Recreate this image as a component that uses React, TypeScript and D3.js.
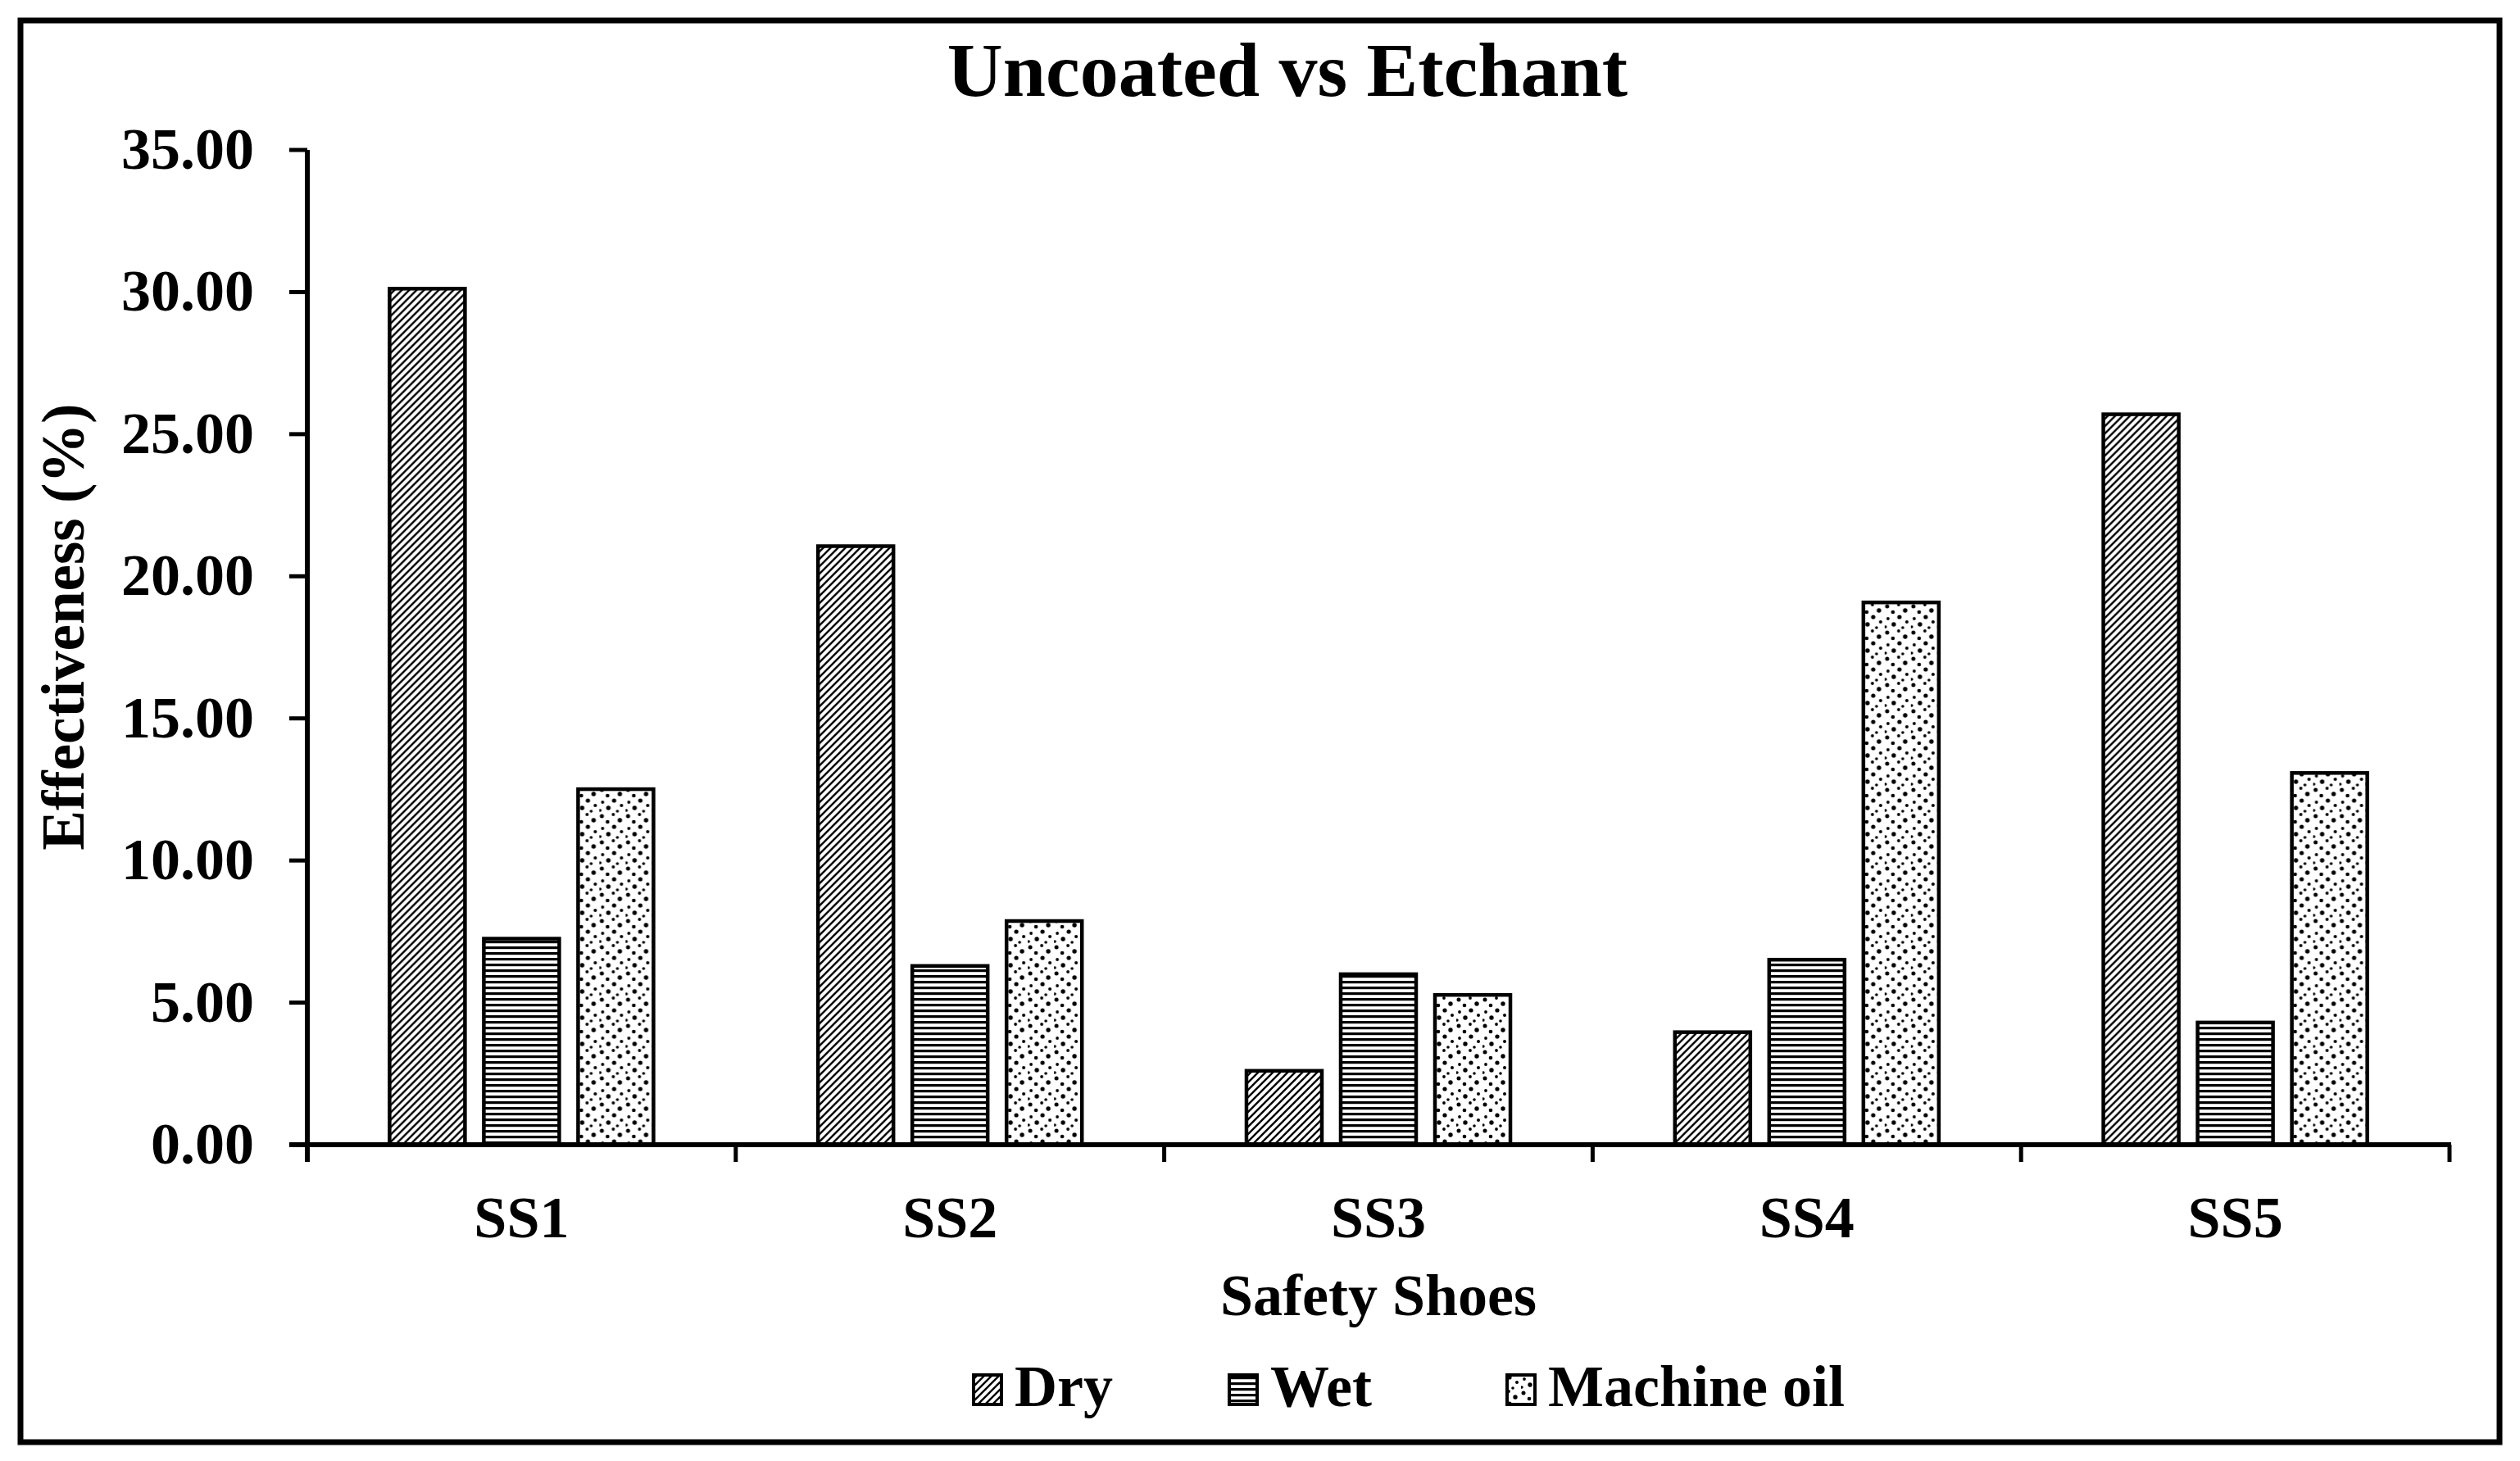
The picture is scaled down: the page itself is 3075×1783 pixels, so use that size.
import React from "react";
import * as d3 from "d3";

const categories = ["SS1", "SS2", "SS3", "SS4", "SS5"];
const seriesNames = ["Dry", "Wet", "Machine oil"];
const dryValues = [30.12, 21.06, 2.6, 3.96, 25.7];
const wetValues = [7.25, 6.29, 6.0, 6.51, 4.3];
const oilValues = [12.51, 7.87, 5.27, 19.08, 13.08];
const yTicks = [0, 5, 10, 15, 20, 25, 30, 35];
const titleText = "Uncoated vs Etchant";
const xTitle = "Safety Shoes";
const yTitle = "Effectiveness (%)";

const W = 3075;
const H = 1783;
const plot = { left: 375, right: 2989, top: 183, bottom: 1397 };
const FONT = "'Liberation Serif', 'Times New Roman', serif";

const patternIds = ["pDry", "pWet", "pOil"];

// dot layout for the dotted (machine oil) texture tile
const oilDots = [
  [3, 4, 2.5], [17, 2, 1.9], [10, 11, 2.3], [25, 9, 2.7], [4, 19, 1.9],
  [18, 17, 2.6], [27, 23, 2.0], [11, 26, 2.7], [1, 29, 1.7], [22, 30, 1.8],
];

export default function App() {
  const values = [dryValues, wetValues, oilValues];
  const x0 = d3.scaleBand<string>().domain(categories).range([plot.left, plot.right]).padding(0);
  const groupW = x0.bandwidth() * 0.616;
  const x1 = d3
    .scaleBand<string>()
    .domain(seriesNames)
    .range([0, groupW])
    .paddingInner(0.2)
    .paddingOuter(0);
  const groupOffset = (x0.bandwidth() - groupW) / 2;
  const y = d3.scaleLinear().domain([0, 35]).range([plot.bottom, plot.top]);
  const fmt = d3.format(".2f");

  const legendX = [1188, 1500, 1839];
  const legendBox = 38;
  const legendBaseline = 1716;

  return (
    <svg
      width={W}
      height={H}
      viewBox={`0 0 ${W} ${H}`}
      style={{ position: "absolute", left: 0, top: 0, background: "#fff" }}
      fontFamily={FONT}
      fontWeight="bold"
    >
      <defs>
        <pattern id="pDry" patternUnits="userSpaceOnUse" width={9} height={9}>
          <rect width={9} height={9} fill="#fff" />
          <path d="M-2,2 L2,-2 M0,9 L9,0 M7,11 L11,7" stroke="#000" strokeWidth={2.4} />
        </pattern>
        <pattern id="pWet" patternUnits="userSpaceOnUse" width={10} height={7}>
          <rect width={10} height={7} fill="#fff" />
          <rect y={0} width={10} height={3.2} fill="#000" />
        </pattern>
        <pattern id="pOil" patternUnits="userSpaceOnUse" width={32} height={32}>
          <rect width={32} height={32} fill="#fff" />
          {oilDots.map((d, i) => (
            <circle key={i} cx={d[0]} cy={d[1]} r={d[2]} fill="#000" />
          ))}
        </pattern>
      </defs>

      <rect x={0} y={0} width={W} height={H} fill="#fff" />
      <rect x={25} y={25} width={3025} height={1735} fill="none" stroke="#000" strokeWidth={7} />

      <text x={1571} y={117} textAnchor="middle" fontSize={94}>
        {titleText}
      </text>

      {/* bars */}
      {categories.map((c, ci) => (
        <g key={c} transform={`translate(${(x0(c) as number) + groupOffset},0)`}>
          {seriesNames.map((s, si) => {
            const v = values[si][ci];
            return (
              <rect
                key={s}
                x={x1(s) as number}
                y={y(v)}
                width={x1.bandwidth()}
                height={y(0) - y(v)}
                fill={`url(#${patternIds[si]})`}
                stroke="#000"
                strokeWidth={4.5}
              />
            );
          })}
        </g>
      ))}

      {/* y axis */}
      <line x1={plot.left} x2={plot.left} y1={plot.top} y2={plot.bottom + 21} stroke="#000" strokeWidth={6} />
      {yTicks.map((t) => (
        <g key={t}>
          <line x1={plot.left - 22} x2={plot.left} y1={y(t)} y2={y(t)} stroke="#000" strokeWidth={5} />
          <text x={310} y={y(t)} dy="0.32em" textAnchor="end" fontSize={72}>
            {fmt(t)}
          </text>
        </g>
      ))}

      {/* x axis */}
      <line x1={plot.left - 22} x2={plot.right + 2} y1={plot.bottom} y2={plot.bottom} stroke="#000" strokeWidth={6} />
      {categories.map((c) => (
        <line
          key={c}
          x1={(x0(c) as number) + x0.bandwidth()}
          x2={(x0(c) as number) + x0.bandwidth()}
          y1={plot.bottom}
          y2={plot.bottom + 21}
          stroke="#000"
          strokeWidth={5}
        />
      ))}
      {categories.map((c) => (
        <text key={c} x={(x0(c) as number) + x0.bandwidth() / 2} y={1510} textAnchor="middle" fontSize={72}>
          {c}
        </text>
      ))}

      <text x={(plot.left + plot.right) / 2} y={1605} textAnchor="middle" fontSize={72}>
        {xTitle}
      </text>
      <text transform={`translate(102,765) rotate(-90)`} textAnchor="middle" fontSize={73}>
        {yTitle}
      </text>

      {/* legend */}
      {seriesNames.map((s, i) => (
        <g key={s}>
          <rect
            x={legendX[i]}
            y={legendBaseline - legendBox}
            width={legendBox - 4}
            height={legendBox - 2}
            fill={`url(#${patternIds[i]})`}
            stroke="#000"
            strokeWidth={4}
          />
          <text x={legendX[i] + legendBox + 12} y={legendBaseline} fontSize={72}>
            {s}
          </text>
        </g>
      ))}
    </svg>
  );
}
